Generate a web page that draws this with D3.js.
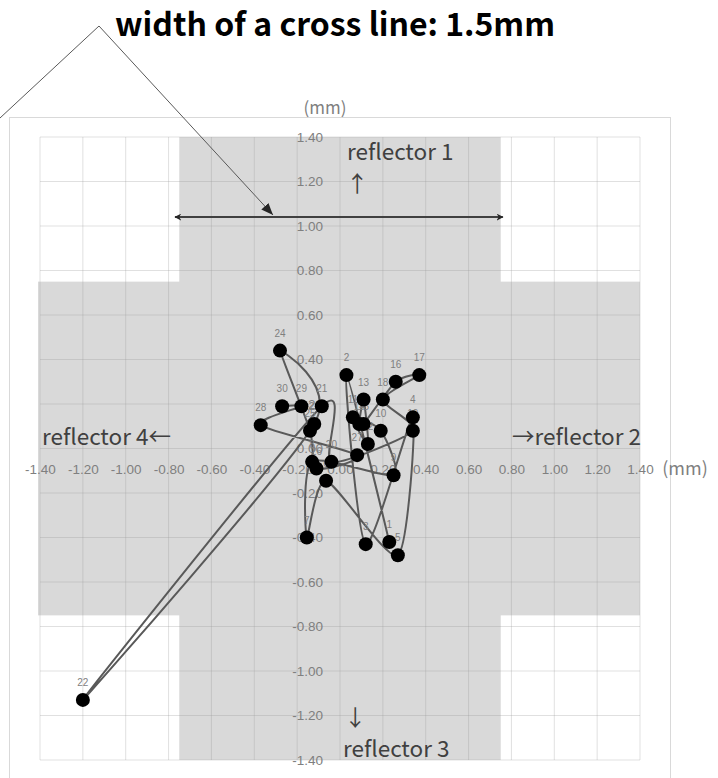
<!DOCTYPE html>
<html>
<head>
<meta charset="utf-8">
<script src="https://cdn.jsdelivr.net/npm/d3@7"></script>
<style>
  html, body { margin: 0; padding: 0; background: #fff; }
  svg { display: block; }
</style>
</head>
<body>
<svg id="chart" width="718" height="778"></svg>
<script>
// point labels in measurement order
const labels = ['1','2','3','4','5','6','7','8','9','10','11','12','13','14','15',
  '16','17','18','19','20','21','22','23','24','25','26','27','28','29','30'];
// deviation in x (mm)
const xs = [0.23, 0.03, 0.12, 0.34, 0.27, -0.065, -0.155, -0.13, 0.25, 0.19, 0.06, 0.13, 0.11, 0.09, 0.11,
  0.26, 0.37, 0.20, 0.34, -0.04, -0.085, -1.20, -0.12, -0.28, -0.14, -0.11, 0.08, -0.37, -0.18, -0.27];
// deviation in y (mm)
const ys = [-0.42, 0.33, -0.43, 0.14, -0.48, -0.145, -0.40, -0.06, -0.12, 0.08, 0.14, 0.02, 0.22, 0.11, 0.11,
  0.30, 0.33, 0.22, 0.08, -0.06, 0.19, -1.13, 0.11, 0.44, 0.08, -0.09, -0.03, 0.105, 0.19, 0.19];

const tickValues = [-1.4, -1.2, -1.0, -0.8, -0.6, -0.4, -0.2, 0, 0.2, 0.4, 0.6, 0.8, 1.0, 1.2, 1.4];
const crossHalfWidth = 0.75;   // 1.5mm wide cross line
const widthArrowY = 1.04;
const widthArrowX = [-0.77, 0.76];

const svg = d3.select('#chart');
const x = d3.scaleLinear().domain([-1.4, 1.4]).range([40, 640]);
const y = d3.scaleLinear().domain([-1.4, 1.4]).range([760, 137]);

const grey = '#7f7f7f';

// chart frame
svg.append('rect')
  .attr('x', 9.5).attr('y', 117.5).attr('width', 661).attr('height', 720)
  .attr('fill', 'none').attr('stroke', '#d9d9d9');

// the cross (allowed area)
const cross = svg.append('g').attr('fill', '#d9d9d9');
cross.append('rect')
  .attr('x', x(-crossHalfWidth)).attr('y', y(1.4))
  .attr('width', x(crossHalfWidth) - x(-crossHalfWidth))
  .attr('height', y(-1.4) - y(1.4));
cross.append('rect')
  .attr('x', x(-1.4) - 2).attr('y', y(crossHalfWidth))
  .attr('width', x(1.4) - x(-1.4) + 2)
  .attr('height', y(-crossHalfWidth) - y(crossHalfWidth));

// gridlines
const grid = svg.append('g').attr('stroke', '#999').attr('stroke-opacity', 0.3);
grid.selectAll('.gx').data(tickValues).enter().append('line')
  .attr('x1', d => x(d)).attr('x2', d => x(d))
  .attr('y1', y(1.4)).attr('y2', y(-1.4));
grid.selectAll('.gy').data(tickValues).enter().append('line')
  .attr('x1', x(-1.4)).attr('x2', x(1.4))
  .attr('y1', d => y(d)).attr('y2', d => y(d));

// axes through the origin, labels only (plain hyphen minus like the original)
const fmt = d => d.toFixed(2);
const xAxis = svg.append('g')
  .attr('transform', `translate(0,${y(0)})`)
  .call(d3.axisBottom(x).tickValues(tickValues).tickFormat(fmt).tickSize(0).tickPadding(16));
const yAxis = svg.append('g')
  .attr('transform', `translate(${x(0)},0)`)
  .call(d3.axisLeft(y).tickValues(tickValues).tickFormat(fmt).tickSize(0).tickPadding(17));
[xAxis, yAxis].forEach(a => {
  a.select('.domain').remove();
  a.selectAll('text')
    .attr('fill', grey)
    .style('font-family', '"Liberation Sans", Arial, sans-serif')
    .style('font-size', '13.5px');
});

svg.append('text')
  .attr('x', 325).attr('y', 114)
  .attr('text-anchor', 'middle')
  .attr('fill', grey)
  .style('font-family', '"Noto Sans CJK JP", sans-serif')
  .style('font-size', '17px')
  .text('(mm)');
svg.append('text')
  .attr('x', 685).attr('y', 475)
  .attr('text-anchor', 'middle')
  .attr('fill', grey)
  .style('font-family', '"Noto Sans CJK JP", sans-serif')
  .style('font-size', '18px')
  .text('(mm)');

// reflector labels
const refl = svg.append('g')
  .attr('fill', '#404040')
  .style('font-family', '"Noto Sans CJK JP", sans-serif')
  .style('font-size', '22.5px');
refl.append('text').attr('x', 347).attr('y', 160).text('reflector 1');
refl.append('text').attr('x', 346).attr('y', 192).text('↑');
refl.append('text').attr('x', 42).attr('y', 445).text('reflector 4←');
refl.append('text').attr('x', 641).attr('y', 445).attr('text-anchor', 'end').text('→reflector 2');
refl.append('text').attr('x', 344).attr('y', 726).text('↓');
refl.append('text').attr('x', 343).attr('y', 757).text('reflector 3');

// arrow markers
const defs = svg.append('defs');
defs.append('marker')
  .attr('id', 'open-head')
  .attr('viewBox', '0 0 10 10').attr('refX', 9).attr('refY', 5)
  .attr('markerWidth', 7).attr('markerHeight', 7)
  .attr('markerUnits', 'userSpaceOnUse')
  .attr('orient', 'auto-start-reverse')
  .append('path').attr('d', 'M0,0 L10,5 L0,10 L3,5 Z').attr('fill', '#262626');
defs.append('marker')
  .attr('id', 'solid-head')
  .attr('viewBox', '0 0 10 10').attr('refX', 10).attr('refY', 5)
  .attr('markerWidth', 12).attr('markerHeight', 12)
  .attr('markerUnits', 'userSpaceOnUse')
  .attr('orient', 'auto')
  .append('path').attr('d', 'M0,1 L10,5 L0,9 Z').attr('fill', '#262626');

// width of the cross line
svg.append('line')
  .attr('x1', x(widthArrowX[0])).attr('x2', x(widthArrowX[1]))
  .attr('y1', y(widthArrowY)).attr('y2', y(widthArrowY))
  .attr('stroke', '#404040').attr('stroke-width', 2)
  .attr('marker-start', 'url(#open-head)')
  .attr('marker-end', 'url(#open-head)');

// callout title
svg.append('text')
  .attr('x', 115).attr('y', 36)
  .attr('fill', '#000')
  .style('font-family', '"Noto Sans CJK JP", sans-serif')
  .style('font-weight', 'bold')
  .style('font-size', '32px')
  .text('width of a cross line: 1.5mm');
svg.append('line')
  .attr('x1', 99).attr('y1', 26).attr('x2', 0).attr('y2', 118)
  .attr('stroke', '#595959').attr('stroke-width', 1);
svg.append('line')
  .attr('x1', 99).attr('y1', 26).attr('x2', 273).attr('y2', 215)
  .attr('stroke', '#595959').attr('stroke-width', 1)
  .attr('marker-end', 'url(#solid-head)');

// the measured series, smoothed like a spreadsheet scatter line
const pts = labels.map((l, i) => ({ label: l, x: xs[i], y: ys[i] }));

svg.append('path')
  .datum(pts)
  .attr('fill', 'none')
  .attr('stroke', '#595959')
  .attr('stroke-width', 2)
  .attr('d', d3.line().x(d => x(d.x)).y(d => y(d.y)).curve(d3.curveCardinal.tension(0.3)));

svg.append('g').selectAll('text').data(pts).enter().append('text')
  .attr('x', d => x(d.x)).attr('y', d => y(d.y) - 14)
  .attr('text-anchor', 'middle')
  .attr('fill', grey)
  .style('font-family', '"Liberation Sans", Arial, sans-serif')
  .style('font-size', '10px')
  .text(d => d.label);

svg.append('g').selectAll('circle').data(pts).enter().append('circle')
  .attr('cx', d => x(d.x)).attr('cy', d => y(d.y))
  .attr('r', 7)
  .attr('fill', '#000');
</script>
</body>
</html>
